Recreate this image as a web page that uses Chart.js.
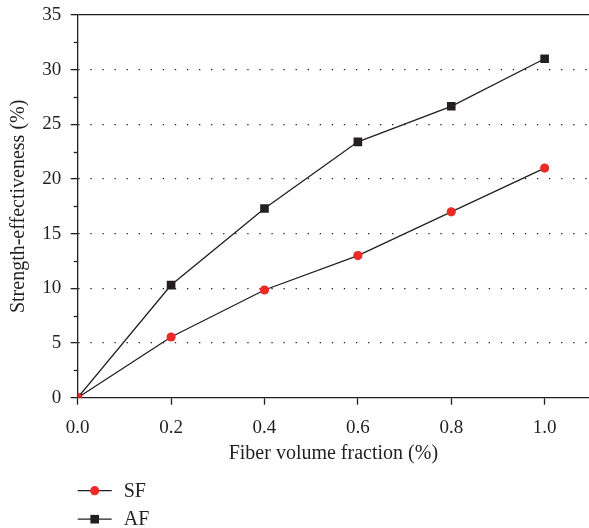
<!DOCTYPE html>
<html>
<head>
<meta charset="utf-8">
<script src="https://cdn.jsdelivr.net/npm/chart.js@4/dist/chart.umd.min.js"></script>
<style>
	html, body { margin: 0; padding: 0; background: #fff; }
	#wrap { width: 589px; height: 528px; }
</style>
</head>
<body>
<div id="wrap"><canvas id="graph" width="589" height="528"></canvas></div>
<script>
"use strict";

// data
const FIBER_FRACTION	= [0, 0.2, 0.4, 0.6, 0.8, 1.0]
const SF_VALUES			= [0, 5.55, 9.85, 13.0, 17.0, 21.0]
const AF_VALUES			= [0, 10.3, 17.3, 23.4, 26.65, 31.0]
const X_TICKS			= [0, 0.2, 0.4, 0.6, 0.8, 1.0]
const Y_TICKS			= [0, 5, 10, 15, 20, 25, 30, 35]
const Y_MINOR_TICKS		= [2.5, 7.5, 12.5, 17.5, 22.5, 27.5, 32.5]

const INK		= '#231f20'
const RED		= '#ee2a27'
const FONT		= '"Liberation Serif", "DejaVu Serif", serif'

const to_points = (values) => FIBER_FRACTION.map((x, i) => ({x: x, y: values[i]}))

// minor ticks on the y axis + line/marker legend under the x title
const extras_plugin = {
	id: 'extras',
	afterDraw: function(chart) {
		const ctx	= chart.ctx
		const area	= chart.chartArea
		const y_scale = chart.scales.y

		ctx.save()
		ctx.strokeStyle	= INK
		ctx.lineWidth	= 1.3
		Y_MINOR_TICKS.forEach((v) => {
			const py = Math.round(y_scale.getPixelForValue(v)) + 0.5
			ctx.beginPath()
			ctx.moveTo(area.left - 4, py)
			ctx.lineTo(area.left, py)
			ctx.stroke()
		})

		// legend
		const x0 = area.left
		chart.data.datasets.forEach((ds, i) => {
			const ly = area.bottom + 93 + i * 28.5
			ctx.strokeStyle	= ds.borderColor
			ctx.lineWidth	= 1.3
			ctx.beginPath()
			ctx.moveTo(x0, ly)
			ctx.lineTo(x0 + 34, ly)
			ctx.stroke()
			ctx.fillStyle = ds.pointBackgroundColor
			if (ds.pointStyle === 'rect') {
				ctx.fillRect(x0 + 17 - 4.3, ly - 4.3, 8.6, 8.6)
			} else {
				ctx.beginPath()
				ctx.arc(x0 + 17, ly, 4.6, 0, Math.PI * 2)
				ctx.fill()
			}
			ctx.fillStyle		= INK
			ctx.font			= '20px ' + FONT
			ctx.textBaseline	= 'middle'
			ctx.textAlign		= 'left'
			ctx.fillText(ds.label, x0 + 46, ly + 1)
		})
		ctx.restore()
	}
}

const chart = new Chart(document.getElementById('graph'), {
	type: 'line',
	data: {
		datasets: [
			{
				label					: 'SF',
				data					: to_points(SF_VALUES),
				borderColor				: INK,
				borderWidth				: 1.3,
				pointStyle				: 'circle',
				pointRadius				: 4.6,
				pointBackgroundColor	: RED,
				pointBorderColor		: RED,
				pointBorderWidth		: 0,
				tension					: 0,
			},
			{
				label					: 'AF',
				data					: to_points(AF_VALUES),
				borderColor				: INK,
				borderWidth				: 1.3,
				pointStyle				: 'rect',
				pointRadius				: 6.1,
				pointBackgroundColor	: INK,
				pointBorderColor		: INK,
				pointBorderWidth		: 0,
				tension					: 0,
			},
		],
	},
	options: {
		responsive: false,
		animation: false,
		layout: {
			autoPadding: false,
			padding: {top: 15, right: 0, left: 0, bottom: 60},
		},
		plugins: {
			legend: { display: false },
			tooltip: { enabled: false },
		},
		scales: {
			x: {
				type: 'linear',
				min: 0,
				max: 1.095,
				afterBuildTicks: (scale) => {
					scale.ticks = X_TICKS.map((v) => ({value: v}))
				},
				afterFit: (scale) => {
					scale.height = 70.3
					scale.paddingLeft = 0
					scale.paddingRight = 0
				},
				grid: {
					drawOnChartArea: false,
					drawTicks: true,
					tickLength: 7,
					tickColor: INK,
					tickWidth: 1.3,
				},
				border: { display: true, color: INK, width: 1.3 },
				ticks: {
					color: INK,
					padding: 12,
					font: { family: FONT, size: 19 },
					callback: (v) => Number(v).toFixed(1),
				},
				title: {
					display: true,
					text: 'Fiber volume fraction (%)',
					color: INK,
					font: { family: FONT, size: 20 },
					padding: { top: 0, bottom: 2 },
				},
			},
			y: {
				type: 'linear',
				min: 0,
				max: 35,
				afterBuildTicks: (scale) => {
					scale.ticks = Y_TICKS.map((v) => ({value: v}))
				},
				afterFit: (scale) => {
					scale.width = 77.7
					scale.paddingTop = 0
					scale.paddingBottom = 0
				},
				grid: {
					drawOnChartArea: true,
					drawTicks: true,
					tickLength: 7,
					tickWidth: 1.3,
					tickColor: INK,
					tickBorderDash: [],
					color: (ctx) => (ctx.tick && ctx.tick.value === 0) ? 'rgba(0,0,0,0)' : INK,
					lineWidth: 1.3,
				},
				border: {
					display: true,
					color: INK,
					width: 1.3,
					dash: (ctx) => (ctx.tick && ctx.tick.value > 0 && ctx.tick.value < 35) ? [1.3, 10.77] : [],
				},
				ticks: {
					color: INK,
					padding: 9.5,
					font: { family: FONT, size: 19 },
				},
				title: {
					display: true,
					text: 'Strength-effectiveness (%)',
					color: INK,
					font: { family: FONT, size: 20 },
					padding: { top: 7, bottom: 0 },
				},
			},
		},
	},
	plugins: [extras_plugin],
})
</script>
</body>
</html>
